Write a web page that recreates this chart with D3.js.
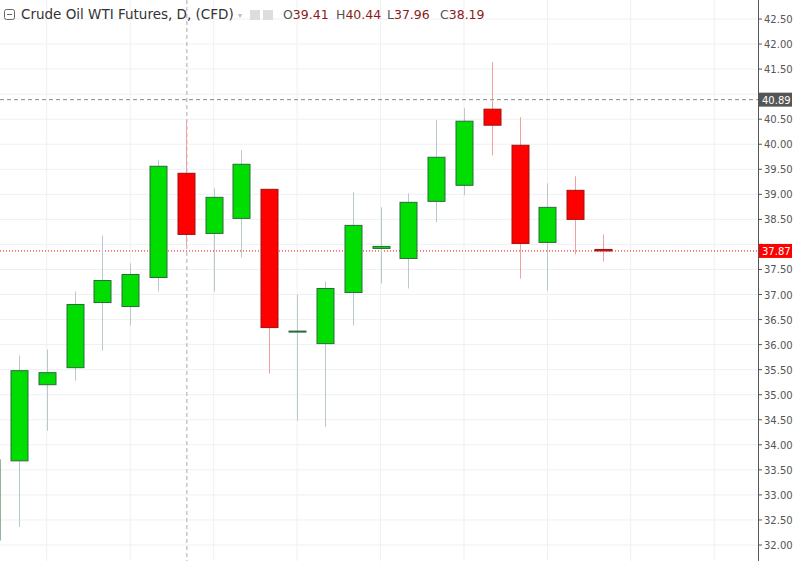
<!DOCTYPE html>
<html><head><meta charset="utf-8">
<script src="https://cdn.jsdelivr.net/npm/d3@7"></script>
<style>body{margin:0;background:#fff}svg{display:block;font-family:"DejaVu Sans",sans-serif}</style>
</head><body><svg id="c" width="800" height="561"></svg>
<script>
const idx   =[-1,0,1,2,3,4,5,6,7,8,9,10,11,12,13,14,15,16,17,18,19,20,21];
const open  =[32.1,33.68,35.2,35.54,36.84,36.76,37.34,39.42,38.22,38.52,39.1,36.26,36.02,37.04,37.92,37.72,38.86,39.18,40.7,39.98,38.04,39.08,37.9];
const close =[33.7,35.48,35.44,36.8,37.28,37.4,39.56,38.2,38.94,39.6,36.34,36.27,37.12,38.38,37.96,38.84,39.74,40.46,40.38,38.02,38.74,38.5,37.87];
const high  =[33.8,35.78,35.9,37.06,38.18,37.62,39.68,40.48,39.12,39.88,39.1,37.0,37.26,39.04,38.74,39.02,40.48,40.72,41.64,40.54,39.22,39.36,38.2];
const low   =[31.9,32.36,34.28,35.28,35.88,36.38,37.06,37.98,37.06,37.74,35.42,34.48,34.36,36.38,37.22,37.12,38.44,38.98,39.78,37.32,37.08,37.8,37.66];
const yTicks=d3.range(32,42.51,0.5);
const lastPrice=37.87, hiLine=40.89;
const lastOHLC=[["O",39.41],["H",40.44],["L",37.96],["C",38.19]];

const svg=d3.select("#c");
const axisX=758;
const x=d3.scaleLinear().domain([0,21]).range([19,603]);
const y=d3.scaleLinear().domain([32,42.5]).range([545,19]);
const plot=svg.append("g");
svg.append("defs").append("clipPath").attr("id","cp").append("rect").attr("width",axisX).attr("height",561);
plot.attr("clip-path","url(#cp)");
yTicks.forEach(v=>plot.append("line").attr("x1",0).attr("x2",axisX).attr("y1",y(v)).attr("y2",y(v)).attr("stroke","#eef0f2"));
d3.range(1,26,3).forEach(i=>plot.append("line").attr("x1",x(i)).attr("x2",x(i)).attr("y1",0).attr("y2",561).attr("stroke","#eef0f2"));
plot.append("line").attr("x1",x(6)+1).attr("x2",x(6)+1).attr("y1",0).attr("y2",561).attr("stroke","#aaa").attr("stroke-dasharray","4,3");
plot.append("line").attr("x1",0).attr("x2",axisX).attr("y1",y(hiLine)).attr("y2",y(hiLine)).attr("stroke","#888").attr("stroke-dasharray","4,3");
plot.append("line").attr("x1",0).attr("x2",axisX).attr("y1",y(lastPrice)).attr("y2",y(lastPrice)).attr("stroke","#f00").attr("stroke-dasharray","1,2");
const bw=17;
idx.forEach((d,i)=>{
  const up=close[i]>=open[i];
  const cx=Math.round(x(d))+0.5;
  plot.append("line").attr("x1",cx).attr("x2",cx).attr("y1",y(high[i])).attr("y2",y(low[i])).attr("stroke",up?"#b8c8cc":"#f0a0a0");
  const top=y(Math.max(open[i],close[i])), bot=y(Math.min(open[i],close[i]));
  plot.append("rect").attr("x",cx-bw/2).attr("y",top).attr("width",bw).attr("height",Math.max(1,bot-top))
    .attr("fill",up?"#00dd00":"#ff0000").attr("stroke",up?"#2a6a3a":"#a01010").attr("stroke-width",1);
});
svg.append("line").attr("x1",axisX+0.5).attr("x2",axisX+0.5).attr("y1",0).attr("y2",561).attr("stroke","#555");
const ax=svg.append("g");
yTicks.forEach(v=>{
  ax.append("line").attr("x1",axisX).attr("x2",axisX+4).attr("y1",y(v)).attr("y2",y(v)).attr("stroke","#555");
  if(Math.abs(y(v)-y(hiLine))<12||Math.abs(y(v)-y(lastPrice))<12) return;
  ax.append("text").attr("x",axisX+6).attr("y",y(v)+4).attr("font-size",10).attr("fill","#555").text(v.toFixed(2));
});
function tag(v,bg){
  svg.append("rect").attr("x",axisX+1).attr("y",y(v)-7).attr("width",33).attr("height",14).attr("fill",bg);
  svg.append("text").attr("x",axisX+4).attr("y",y(v)+4).attr("font-size",10).attr("fill","#fff").text(v.toFixed(2));
}
tag(hiLine,"#555");tag(lastPrice,"#f00");
const h=svg.append("g");
h.append("rect").attr("x",4.5).attr("y",9.5).attr("width",10).attr("height",10).attr("rx",2).attr("fill","none").attr("stroke","#666");
h.append("line").attr("x1",7).attr("x2",12).attr("y1",14.5).attr("y2",14.5).attr("stroke","#666");
h.append("text").attr("x",21).attr("y",19).attr("font-size",13.5).attr("fill","#333").text("Crude Oil WTI Futures, D, (CFD)");
h.append("text").attr("x",238).attr("y",18).attr("font-size",8).attr("fill","#bbb").text("▾");
h.append("rect").attr("x",250).attr("y",10).attr("width",10).attr("height",10).attr("fill","#ddd");
h.append("rect").attr("x",263).attr("y",10).attr("width",10).attr("height",10).attr("fill","#ddd");
const hx=[283,336,387,440];
lastOHLC.forEach((o,i)=>{
  const t=h.append("text").attr("x",hx[i]).attr("y",19).attr("font-size",12.5);
  t.append("tspan").attr("fill","#555").text(o[0]);
  t.append("tspan").attr("fill","#8b1a1a").text(o[1].toFixed(2));
});
</script></body></html>
